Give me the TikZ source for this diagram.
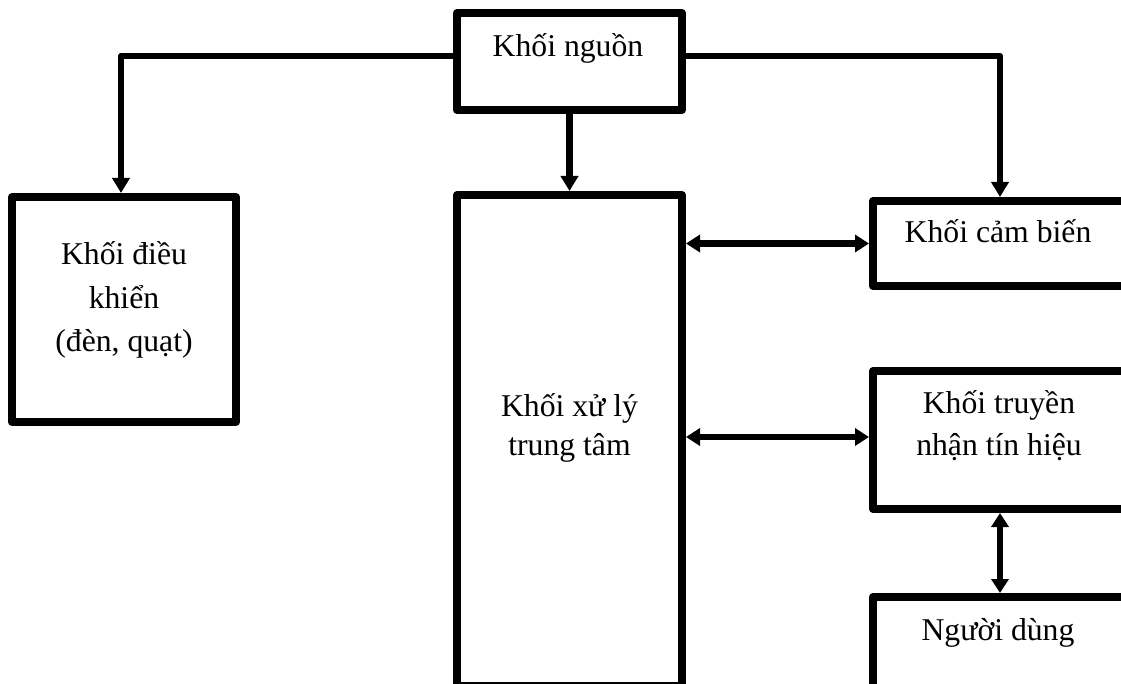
\documentclass[tikz,border=0pt]{standalone}
\usepackage{fontspec}
\setmainfont{Liberation Serif}
\usetikzlibrary{arrows.meta, positioning}
\tikzset{
  blk/.style  = {rectangle, draw=black, fill=white, line width=8pt,
                 line join=round, inner sep=0pt},
  lbl/.style  = {inner sep=0pt, align=center, anchor=base,
                 font=\fontsize{31.7}{43.5}\selectfont},
  arr/.style  = {-{Triangle[length=15pt,width=17pt]}, line width=6.5pt,
                 line join=round},
  arr2/.style = {{Triangle[length=14pt,width=17pt]}-{Triangle[length=14pt,width=17pt]},
                 line width=6.5pt},
}
\begin{document}
\begin{tikzpicture}[x=1pt, y=-1pt]
  \useasboundingbox (0,0) rectangle (1121,684);
  \clip (0,0) rectangle (1121,684);

  % ── Blocks ──────────────────────────────────────────────
  \node[blk, minimum width=225pt, minimum height=97pt]  (nguon) at (569.5, 61.5) {};
  \node[blk, minimum width=224pt, minimum height=225pt] (dieu)  at (124, 309.5) {};
  \node[blk, minimum width=225pt, minimum height=491pt] (trung) at (569.5, 440.5) {};
  \node[blk, minimum width=254pt, minimum height=85pt]  (camb)  at (1000, 243.5) {};
  \node[blk, minimum width=254pt, minimum height=138pt] (truyen) at (1000, 440) {};
  \node[blk, minimum width=254pt, minimum height=123pt] (nguoi) at (1000, 658.5) {};

  % ── Block texts (sit high in their boxes) ───────────────
  \node[lbl] (nguon-t)  at (568, 57)  {Khối nguồn};
  \node[lbl] (dieu-t)   at (124, 352) {Khối điều\\khiển\\(đèn, quạt)};
  \node[lbl, font=\fontsize{31.7}{39}\selectfont]
             (trung-t)  at (569.5, 455) {Khối xử lý\\trung tâm};
  \node[lbl] (camb-t)   at (998, 243) {Khối cảm biến};
  \node[lbl, font=\fontsize{31.7}{42}\selectfont]
             (truyen-t) at (999, 455) {Khối truyền\\nhận tín hiệu};
  \node[lbl] (nguoi-t)  at (998, 640) {Người dùng};

  % ── Power lines ─────────────────────────────────────────
  \draw[arr] ([yshift=5.5pt]nguon.west) -| ([xshift=-3pt]dieu.north);
  \draw[arr] ([yshift=5.5pt]nguon.east) -| (camb.north);
  \draw[arr] (nguon.south) -- (trung.north);

  % ── Data links ──────────────────────────────────────────
  \draw[arr2] (camb.west -| trung.east) -- (camb.west);
  \draw[arr2] ([yshift=3pt]truyen.west -| trung.east) -- ([yshift=3pt]truyen.west);
  \draw[arr2] (truyen.south) -- (nguoi.north);

\end{tikzpicture}
\end{document}
